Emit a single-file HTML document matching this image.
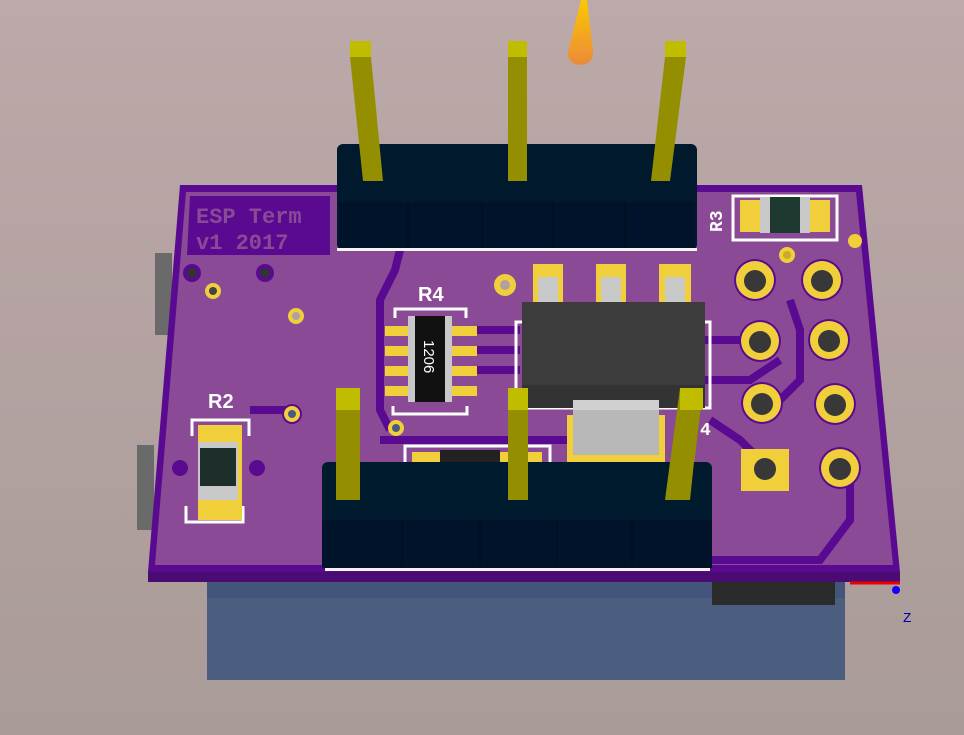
<!DOCTYPE html>
<html><head><meta charset="utf-8"><style>
html,body{margin:0;padding:0;width:964px;height:735px;overflow:hidden}
body{background:linear-gradient(#bca9a9,#a99b98)}
svg{position:absolute;left:0;top:0}
</style></head><body>
<svg width="964" height="735" viewBox="0 0 964 735" font-family="Liberation Mono, monospace">
<defs>
<linearGradient id="flame" x1="0" y1="0" x2="0" y2="1"><stop offset="0" stop-color="#fcc800"/><stop offset="1" stop-color="#ec8a3a"/></linearGradient>
</defs>
<path d="M581,0 L587,0 L593,50 Q594,64 581,65 Q567,64 568,52 Z" fill="url(#flame)"/>
<rect x="207" y="578" width="638" height="102" fill="#4b5e80"/>
<rect x="207" y="578" width="638" height="20" fill="#43557a"/>
<rect x="712" y="580" width="123" height="25" fill="#2b2b2b"/>
<rect x="155" y="253" width="17" height="82" fill="#6a6a6a"/>
<rect x="137" y="445" width="17" height="85" fill="#6a6a6a"/>
<polygon points="148,572 900,572 900,582 148,582" fill="#4a0b72"/>
<polygon points="180,185 862,185 900,572 148,572" fill="#5a0a90"/>
<polygon points="186,192 856,192 893,565 155,565" fill="#8a4a95"/>
<polygon points="190,196 330,196 330,255 187,255" fill="#5a0a90"/>
<text x="196" y="223" font-size="22" font-weight="bold" fill="#8a4a95">ESP Term</text>
<text x="196" y="249" font-size="22" font-weight="bold" fill="#8a4a95">v1 2017</text>
<g stroke="#5a0a90" stroke-width="8" fill="none">
<path d="M400,250 L395,270 L380,300 L380,410 L390,430"/>
<path d="M470,330 L520,330"/><path d="M470,350 L520,350"/><path d="M470,370 L520,370"/>
<path d="M705,340 L760,340"/><path d="M705,380 L750,380 L780,360"/>
<path d="M790,300 L800,330 L800,380 L770,410"/>
<path d="M710,420 L740,440 L760,460"/>
<path d="M640,560 L820,560 L850,520 L850,470"/>
<path d="M250,410 L290,410"/>
<path d="M380,440 L600,440"/>
</g>
<circle cx="192" cy="273" r="9" fill="#5a0a90"/><circle cx="192" cy="273" r="5" fill="#333"/>
<circle cx="265" cy="273" r="9" fill="#5a0a90"/><circle cx="265" cy="273" r="5" fill="#333"/>
<circle cx="213" cy="291" r="8" fill="#f0cf3a"/><circle cx="213" cy="291" r="4" fill="#444"/>
<circle cx="296" cy="316" r="8" fill="#f0cf3a"/><circle cx="296" cy="316" r="4" fill="#b0a0a0"/>
<circle cx="292" cy="414" r="10" fill="#5a0a90"/><circle cx="292" cy="414" r="8" fill="#f0cf3a"/><circle cx="292" cy="414" r="4" fill="#4a5a80"/>
<circle cx="505" cy="285" r="11" fill="#f0cf3a"/><circle cx="505" cy="285" r="5" fill="#b0a0a0"/>
<circle cx="855" cy="241" r="7" fill="#f0cf3a"/>
<circle cx="787" cy="255" r="8" fill="#f0cf3a"/><circle cx="787" cy="255" r="4" fill="#c9a930"/>
<circle cx="396" cy="428" r="8" fill="#f0cf3a"/><circle cx="396" cy="428" r="4" fill="#4a5a80"/>
<text x="722" y="232" font-size="18" font-weight="bold" fill="#fff" transform="rotate(-90 722 232)">R3</text>
<rect x="733" y="196" width="104" height="44" fill="none" stroke="#fff" stroke-width="3"/>
<rect x="740" y="200" width="90" height="32" fill="#f0cf3a"/>
<rect x="760" y="197" width="50" height="36" fill="#c8c8c8"/>
<rect x="770" y="197" width="30" height="36" fill="#1e3a30"/>
<text x="418" y="301" font-size="20" font-weight="bold" fill="#fff" font-family="Liberation Sans,sans-serif">R4</text>
<path d="M395,318 V309 H466 V318 M393,406 V414 H467 V406" stroke="#fff" stroke-width="3" fill="none"/>
<g fill="#f0cf3a">
<rect x="385" y="326" width="92" height="10"/><rect x="385" y="346" width="92" height="10"/>
<rect x="385" y="366" width="92" height="10"/><rect x="385" y="386" width="92" height="10"/>
</g>
<rect x="408" y="316" width="44" height="86" fill="#c8c8c8"/>
<rect x="415" y="316" width="30" height="86" fill="#111"/>
<text x="424" y="340" font-size="15" fill="#fff" font-family="Liberation Sans,sans-serif" transform="rotate(90 424 340)">1206</text>
<g fill="#f0cf3a"><rect x="533" y="264" width="30" height="40"/><rect x="596" y="264" width="30" height="40"/><rect x="659" y="264" width="32" height="40"/></g>
<g fill="#c8c8c8"><rect x="538" y="277" width="20" height="25"/><rect x="601" y="277" width="20" height="25"/><rect x="665" y="277" width="20" height="25"/></g>
<rect x="516" y="322" width="194" height="86" fill="none" stroke="#fff" stroke-width="3"/>
<rect x="522" y="302" width="183" height="106" fill="#3c3c3c"/>
<rect x="522" y="385" width="183" height="23" fill="#333"/>
<rect x="567" y="415" width="98" height="50" fill="#f0cf3a"/>
<rect x="573" y="400" width="86" height="55" fill="#b8b8b8"/>
<rect x="573" y="400" width="86" height="10" fill="#d0d0d0"/>
<text x="700" y="435" font-size="18" font-weight="bold" fill="#fff">4</text>
<g>
<circle cx="755" cy="280" r="21" fill="#5a0a90"/><circle cx="755" cy="280" r="19" fill="#f0cf3a"/><circle cx="755" cy="281" r="11" fill="#383838"/>
<circle cx="822" cy="280" r="21" fill="#5a0a90"/><circle cx="822" cy="280" r="19" fill="#f0cf3a"/><circle cx="822" cy="281" r="11" fill="#383838"/>
<circle cx="760" cy="341" r="21" fill="#5a0a90"/><circle cx="760" cy="341" r="19" fill="#f0cf3a"/><circle cx="760" cy="342" r="11" fill="#383838"/>
<circle cx="829" cy="340" r="21" fill="#5a0a90"/><circle cx="829" cy="340" r="19" fill="#f0cf3a"/><circle cx="829" cy="341" r="11" fill="#383838"/>
<circle cx="762" cy="403" r="21" fill="#5a0a90"/><circle cx="762" cy="403" r="19" fill="#f0cf3a"/><circle cx="762" cy="404" r="11" fill="#383838"/>
<circle cx="835" cy="404" r="21" fill="#5a0a90"/><circle cx="835" cy="404" r="19" fill="#f0cf3a"/><circle cx="835" cy="405" r="11" fill="#383838"/>
<rect x="741" y="449" width="48" height="42" fill="#f0cf3a"/><circle cx="765" cy="469" r="11" fill="#383838"/>
<circle cx="840" cy="468" r="21" fill="#5a0a90"/><circle cx="840" cy="468" r="19" fill="#f0cf3a"/><circle cx="840" cy="469" r="11" fill="#383838"/>
</g>
<text x="208" y="408" font-size="20" font-weight="bold" fill="#fff" font-family="Liberation Sans,sans-serif">R2</text>
<path d="M192,436 V420 H249 V436 M186,506 V522 H243 V506" stroke="#fff" stroke-width="3" fill="none"/>
<rect x="198" y="425" width="44" height="95" fill="#f0cf3a"/>
<rect x="198" y="442" width="40" height="58" fill="#c8c8c8"/>
<rect x="200" y="448" width="36" height="38" fill="#1e2e2a"/>
<circle cx="180" cy="468" r="8" fill="#5a0a90"/><circle cx="257" cy="468" r="8" fill="#5a0a90"/>
<rect x="405" y="446" width="145" height="20" fill="none" stroke="#fff" stroke-width="3"/>
<rect x="412" y="452" width="130" height="14" fill="#f0cf3a"/>
<rect x="440" y="450" width="60" height="16" fill="#222"/>
<rect x="337" y="144" width="360" height="106" rx="6" fill="#00192d"/>
<rect x="339" y="202" width="356" height="47" fill="#00132a"/>
<rect x="337" y="248" width="360" height="3" fill="#f4f4f4"/>
<g stroke="#001020" stroke-width="2"><line x1="408" y1="202" x2="408" y2="248"/><line x1="482" y1="202" x2="482" y2="248"/><line x1="553" y1="202" x2="553" y2="248"/><line x1="625" y1="202" x2="625" y2="248"/></g>
<polygon points="350,57 371,57 383,181 363,181" fill="#948f00"/><rect x="350" y="41" width="21" height="16" fill="#c0bc00"/>
<rect x="508" y="57" width="19" height="124" fill="#948f00"/><rect x="508" y="41" width="19" height="16" fill="#c0bc00"/>
<polygon points="665,57 686,57 670,181 651,181" fill="#948f00"/><rect x="665" y="41" width="21" height="16" fill="#c0bc00"/>
<polygon points="336,390 360,390 360,500 336,500" fill="#948f00"/><rect x="336" y="388" width="24" height="22" fill="#c0bc00"/>
<rect x="508" y="388" width="20" height="112" fill="#948f00"/><rect x="508" y="388" width="20" height="22" fill="#c0bc00"/>
<polygon points="680,388 703,388 690,500 665,500" fill="#948f00"/><rect x="680" y="388" width="23" height="22" fill="#c0bc00"/>
<rect x="322" y="462" width="390" height="108" rx="6" fill="#001a2e"/>
<rect x="322" y="520" width="390" height="48" fill="#00132a"/>
<rect x="325" y="568" width="385" height="3" fill="#f4f4f4"/>
<g stroke="#001020" stroke-width="2"><line x1="402" y1="520" x2="402" y2="566"/><line x1="480" y1="520" x2="480" y2="566"/><line x1="557" y1="520" x2="557" y2="566"/><line x1="632" y1="520" x2="632" y2="566"/></g>
<rect x="336" y="462" width="24" height="38" fill="#948f00"/>
<rect x="508" y="462" width="20" height="38" fill="#948f00"/>
<polygon points="670,462 694,462 690,500 665,500" fill="#948f00"/>
<line x1="850" y1="583" x2="900" y2="583" stroke="#e00" stroke-width="3"/>
<circle cx="896" cy="590" r="4" fill="#10f"/>
<text x="903" y="622" font-size="14" fill="#00a">Z</text>
</svg>
</body></html>
